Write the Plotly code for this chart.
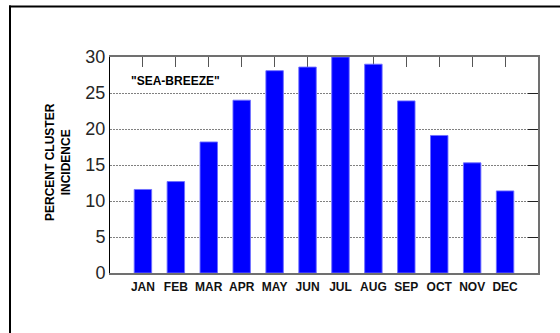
import plotly.graph_objects as go

# Monthly incidence of the "sea-breeze" cluster (percent)
months = ["JAN", "FEB", "MAR", "APR", "MAY", "JUN",
          "JUL", "AUG", "SEP", "OCT", "NOV", "DEC"]
month_pos = list(range(1, 13))
incidence = [11.6, 12.7, 18.2, 24.0, 28.1, 28.6,
             30.0, 29.0, 23.9, 19.1, 15.3, 11.4]
y_ticks = [0, 5, 10, 15, 20, 25, 30]

FONT = "Liberation Sans, Arial, Helvetica, sans-serif"

W, H = 560, 333
ML, MR, MT, MB = 110, 22, 57, 60
PW, PH = W - ML - MR, H - MT - MB


def px_x(x):
    return (x - ML) / PW


def px_y(y):
    return (H - MB - y) / PH


fig = go.Figure()

fig.add_trace(go.Bar(
    x=month_pos, y=incidence, width=0.53,
    marker=dict(color="#0000ff", line=dict(color="rgba(110,110,255,0.9)", width=1)),
    hoverinfo="x+y", showlegend=False,
))

# invisible companion trace so the top/right frame axes are drawn
fig.add_trace(go.Scatter(
    x=month_pos, y=incidence, xaxis="x2", yaxis="y2",
    mode="markers", marker=dict(opacity=0), hoverinfo="skip", showlegend=False,
))

fig.update_layout(
    width=W, height=H,
    margin=dict(l=ML, r=MR, t=MT, b=MB),
    paper_bgcolor="white", plot_bgcolor="white",
    font=dict(family=FONT, color="black"),
    xaxis=dict(
        range=[0, 13], tickvals=month_pos,
        ticktext=[f"<b>{m}</b>" for m in months],
        ticks="", showgrid=False, zeroline=False,
        showline=True, linecolor="#707070", linewidth=2,
        tickfont=dict(family=FONT, size=12, color="#111"),
        ticklabelstandoff=2,
    ),
    yaxis=dict(
        range=[0, 30], tickvals=y_ticks, ticks="",
        showgrid=True, gridcolor="#808080", gridwidth=1, griddash="1.5px,1.5px",
        zeroline=False, showline=True, linecolor="black", linewidth=1,
        tickfont=dict(family=FONT, size=18, color="#262626"),
    ),
    xaxis2=dict(
        overlaying="x", side="top", range=[0, 13], tickvals=month_pos,
        ticks="inside", ticklen=10, tickcolor="#555", tickwidth=1,
        showticklabels=False, showgrid=False, zeroline=False,
        showline=True, linecolor="#707070", linewidth=2,
        layer="below traces",
    ),
    yaxis2=dict(
        overlaying="y", side="right", range=[0, 30], tickvals=y_ticks,
        ticks="inside", ticklen=10, tickcolor="#222", tickwidth=1,
        showticklabels=False, showgrid=False, zeroline=False,
        showline=True, linecolor="#707070", linewidth=2,
    ),
    annotations=[
        dict(x=px_x(129), y=px_y(81), xref="paper", yref="paper",
             text="<b>\"SEA-BREEZE\"</b>", showarrow=False,
             xanchor="left", yanchor="middle",
             font=dict(family=FONT, size=12, color="black")),
        dict(x=px_x(58), y=px_y(162), xref="paper", yref="paper",
             text="<b>PERCENT CLUSTER<br>INCIDENCE</b>", showarrow=False,
             textangle=-90, xanchor="center", yanchor="middle",
             font=dict(family=FONT, size=12, color="black")),
    ],
    shapes=[
        dict(type="line", xref="paper", yref="paper",
             x0=px_x(9), x1=px_x(565), y0=px_y(6.5), y1=px_y(6.5),
             line=dict(color="black", width=2)),
        dict(type="line", xref="paper", yref="paper",
             x0=px_x(10), x1=px_x(10), y0=px_y(5.5), y1=px_y(340),
             line=dict(color="black", width=2)),
    ],
)

fig.write_html("out.html")
